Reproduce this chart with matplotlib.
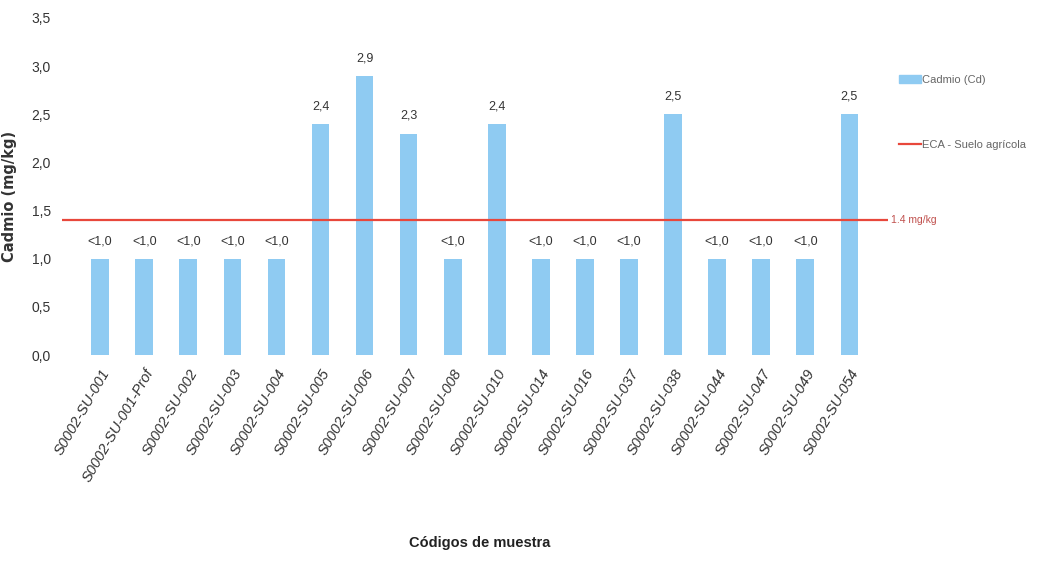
import numpy as np
import matplotlib
matplotlib.use("Agg")
from matplotlib import pyplot as plt
from matplotlib.lines import Line2D
from matplotlib.patches import Patch

plt.rcParams['font.family'] = ['Liberation Sans Narrow', 'Liberation Sans', 'DejaVu Sans']

# Data
codigos = ["S0002-SU-001", "S0002-SU-001-Prof", "S0002-SU-002", "S0002-SU-003",
           "S0002-SU-004", "S0002-SU-005", "S0002-SU-006", "S0002-SU-007",
           "S0002-SU-008", "S0002-SU-010", "S0002-SU-014", "S0002-SU-016",
           "S0002-SU-037", "S0002-SU-038", "S0002-SU-044", "S0002-SU-047",
           "S0002-SU-049", "S0002-SU-054"]
cadmio = [1.0, 1.0, 1.0, 1.0, 1.0, 2.4, 2.9, 2.3, 1.0, 2.4,
          1.0, 1.0, 1.0, 2.5, 1.0, 1.0, 1.0, 2.5]
etiquetas = ["<1,0", "<1,0", "<1,0", "<1,0", "<1,0", "2,4", "2,9", "2,3", "<1,0", "2,4",
             "<1,0", "<1,0", "<1,0", "2,5", "<1,0", "<1,0", "<1,0", "2,5"]
eca = 1.4
yticks = [0.0, 0.5, 1.0, 1.5, 2.0, 2.5, 3.0, 3.5]

bar_color = "#8fcbf2"
line_color = "#e8473b"

fig = plt.figure(figsize=(10.48, 5.61), dpi=100)
ax = fig.add_axes([0.059, 0.367, 0.788, 0.601])

x = np.arange(len(codigos))
ax.bar(x, cadmio, width=0.4, color=bar_color)
ax.plot([-0.87, len(codigos) - 0.13], [eca, eca], color=line_color, lw=1.6)

for xi, v, t in zip(x, cadmio, etiquetas):
    ax.text(xi, v + 0.12, t, ha="center", va="bottom", fontsize=9, color="#333333")

ax.text(len(codigos) - 0.05, eca, "1.4 mg/kg", ha="left", va="center",
        fontsize=7.5, color="#c0504d")

ax.set_xlim(-0.87, len(codigos) - 0.13)
ax.set_ylim(0, 3.5)
ax.set_yticks(yticks)
ax.set_yticklabels([f"{v:.1f}".replace(".", ",") for v in yticks], fontsize=10, color="#333333")
ax.set_xticks(x)
ax.set_xticklabels(codigos, rotation=60, ha="right", rotation_mode="anchor",
                   fontsize=10.5, style="italic", color="#333333")
ax.tick_params(length=0, pad=8)
for s in ax.spines.values():
    s.set_visible(False)

ax.set_ylabel("Cadmio (mg/kg)", fontsize=10.5, fontweight="bold", color="#333333",
              family=['DejaVu Sans'])
ax.yaxis.set_label_coords(-0.054, 0.47)
fig.text(0.458, 0.02, "Códigos de muestra", ha="center", va="bottom",
         fontsize=10.5, fontweight="bold", color="#222222")

handles = [Patch(color=bar_color), Line2D([0], [0], color=line_color, lw=1.6)]
fig.legend(handles, ["Cadmio (Cd)", "ECA - Suelo agrícola"], loc="upper left",
           bbox_to_anchor=(0.848, 0.885), frameon=False, fontsize=8,
           labelspacing=5.0, handlelength=2.0, handletextpad=0.1,
           labelcolor="#666666")

fig.savefig("out.png", dpi=100)
